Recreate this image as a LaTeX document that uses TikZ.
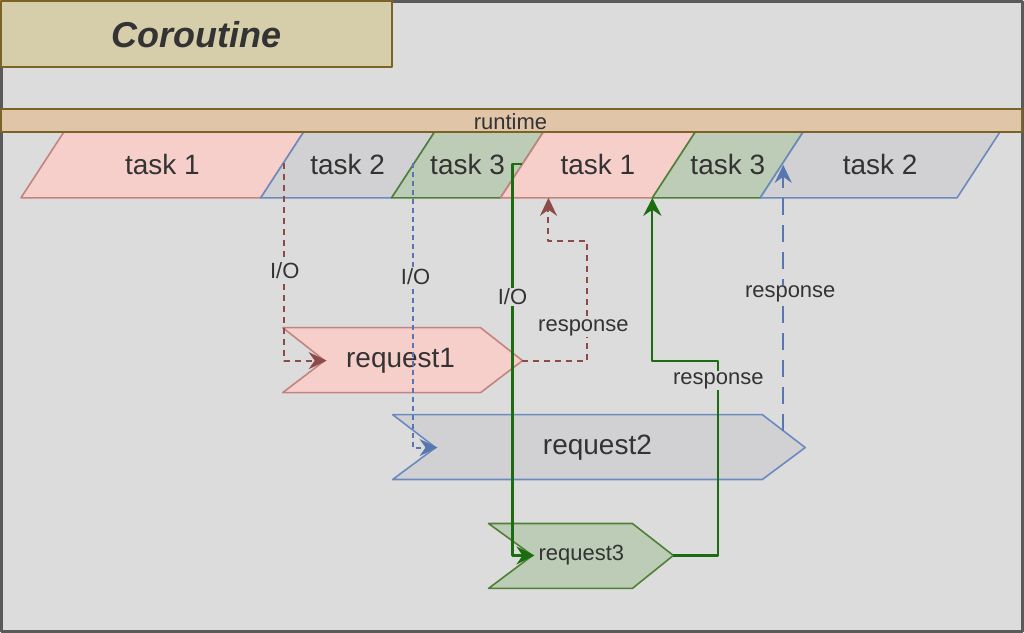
\documentclass[tikz,border=0pt]{standalone}
\usepackage{fontspec}
\setmainfont{Liberation Sans}
\usetikzlibrary{arrows.meta, positioning}
\definecolor{bg_gray}{HTML}{DCDCDC}
\definecolor{frame_gray}{HTML}{5A5A5A}
\definecolor{text_gray}{HTML}{333333}
\definecolor{title_fill}{HTML}{D6CDAA}
\definecolor{title_line}{HTML}{7A6324}
\definecolor{runtime_fill}{HTML}{E0C5A9}
\definecolor{pink_fill}{HTML}{F6CFCB}
\definecolor{pink_line}{HTML}{C3847F}
\definecolor{gray_fill}{HTML}{D1D1D3}
\definecolor{blue_line}{HTML}{6B8AC0}
\definecolor{green_fill}{HTML}{BDCCB7}
\definecolor{green_line}{HTML}{4E8036}
\definecolor{io_red}{HTML}{8D4B48}
\definecolor{io_blue}{HTML}{5876B0}
\definecolor{io_green}{HTML}{1B6E0F}
\tikzset{
	pinkbox/.style={fill=pink_fill, draw=pink_line, line width=1.6pt},
	graybox/.style={fill=gray_fill, draw=blue_line, line width=1.6pt},
	greenbox/.style={fill=green_fill, draw=green_line, line width=1.6pt},
	lbl/.style={text=text_gray, inner sep=1pt, font=\fontsize{22}{24}\selectfont},
	gaplbl/.style={lbl, fill=bg_gray},
	redline/.style={io_red, line width=2pt, dash pattern=on 6pt off 5pt, -{Stealth[length=18pt,width=17pt,inset=6pt]}},
	blueline/.style={io_blue, line width=2pt, dash pattern=on 5pt off 4pt, -{Stealth[length=18pt,width=17pt,inset=6pt]}},
	greenline/.style={io_green, line width=2.2pt, -{Stealth[length=18pt,width=18pt,inset=6pt]}},
}

\begin{document}
\begin{tikzpicture}[x=1pt,y=-1pt,line join=round]
	\fill[bg_gray] (0,0) rectangle (1024,632);
	\draw[frame_gray, line width=2.5pt] (0.5,0.5) rectangle (1022.5,631);
	% title
	\draw[fill=title_fill, draw=title_line, line width=2pt] (0,0) rectangle (391,66);
	\node[text=text_gray, font=\fontsize{36}{40}\selectfont\bfseries\itshape] (title) at (196,34) {Coroutine};
	% tasks
	\foreach \x/\w/\s/\t/\n in {20/240/pinkbox/task 1/ta, 260/131/graybox/task 2/tb, 391/109/greenbox/task 3/tc, 500/152/pinkbox/task 1/td, 652/108/greenbox/task 3/te, 760/197/graybox/task 2/tf}
	{
		\draw[\s] (\x,197) -- ++(43,-66) -- ++(\w,0) -- ++(-43,66) -- cycle;
		\pgfmathsetmacro\c{\x+21.5+\w/2}
		\node[text=text_gray, font=\fontsize{28}{30}\selectfont] (\n) at (\c,164) {\t};
	}
	% runtime
	\draw[fill=runtime_fill, draw=title_line, line width=2pt] (0,108.5) rectangle (1022,131);
	\node[text=text_gray, font=\fontsize{22}{24}\selectfont] (rt) at (510,121) {runtime};
	% requests
	\draw[pinkbox] (282,327) -- (480,327) -- (522,360) -- (480,392) -- (282,392) -- (324,360) -- cycle;
	\node[text=text_gray, font=\fontsize{28}{30}\selectfont] (req1) at (400,360) {request1};
	\draw[graybox] (392,414) -- (762,414) -- (805,447) -- (762,479) -- (392,479) -- (435,447) -- cycle;
	\node[text=text_gray, font=\fontsize{28}{30}\selectfont] (req2) at (597,447) {request2};
	\draw[greenbox] (488,523) -- (632,523) -- (673,555) -- (632,588) -- (488,588) -- (532,555) -- cycle;
	\node[text=text_gray, font=\fontsize{22}{24}\selectfont] (req3) at (581,555) {request3};
	% connection points
	\coordinate (out1) at (283,162);
	\coordinate (in1) at (326,360);
	\coordinate (tip1) at (522,360);
	\coordinate (back1) at (548,197);
	\coordinate (out2) at (412,162);
	\coordinate (in2) at (437,447);
	\coordinate (tip2) at (783,430);
	\coordinate (back2) at (783,164);
	\coordinate (out3) at (522,163);
	\coordinate (in3) at (534,555);
	\coordinate (tip3) at (673,555);
	\coordinate (back3) at (652,197);
	% I/O
	\draw[redline] (out1) |- (in1);
	\node[gaplbl] (io1) at (284,270) {I/O};
	\draw[blueline] (out2) |- (in2);
	\node[gaplbl] (io2) at (415,276) {I/O};
	\draw[greenline] (out3) -- (512,163) |- (in3);
	\node[gaplbl] (io3) at (512,296) {I/O};
	% responses
	\draw[redline] (tip1) -- (587,360) -- (587,240) -| (back1);
	\node[gaplbl] (rs1) at (583,327) {response};
	\draw[greenline] (tip3) -- (718,555) -- (718,360) -| (back3);
	\node[gaplbl] (rs3) at (718,380) {response};
	\draw[blueline, dash pattern=on 17pt off 10pt] (tip2) -- (back2);
	\node[gaplbl] (rs2) at (790,293) {response};
\end{tikzpicture}
\end{document}
